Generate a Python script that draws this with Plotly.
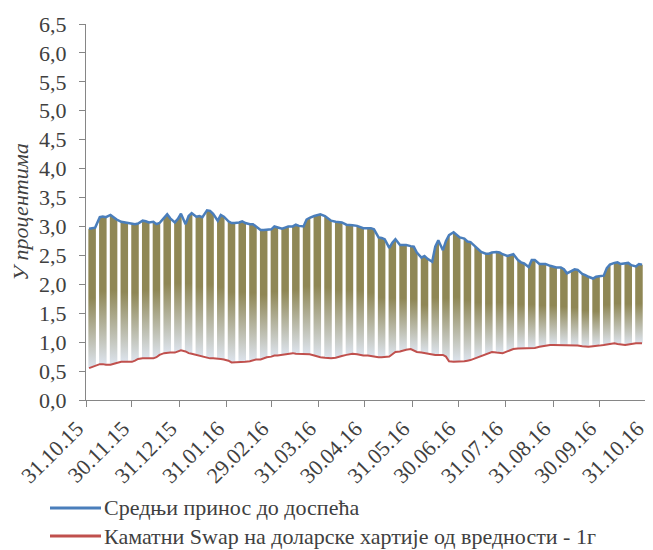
import pandas as pd
import plotly.graph_objects as go

# ---- data ----
first_monday = "2015-11-02"
n_weeks = 52
# Values on Mon / Wed / Fri of every week
yield_avg = [
    2.96, 2.97, 2.98,  3.16, 3.17, 3.16,  3.20, 3.16, 3.12,  3.08, 3.07, 3.06,
    3.04, 3.04, 3.05,  3.10, 3.09, 3.07,  3.08, 3.04, 3.06,  3.14, 3.21, 3.14,
    3.07, 3.13, 3.22,  3.04, 3.18, 3.23,  3.17, 3.18, 3.16,  3.28, 3.27, 3.22,
    3.10, 3.20, 3.17,  3.09, 3.06, 3.06,  3.07, 3.09, 3.06,  3.04, 3.04, 3.00,
    2.94, 2.94, 2.94,  2.95, 3.00, 2.98,  2.96, 2.98, 3.00,  3.00, 3.03, 3.01,
    3.00, 3.12, 3.15,  3.18, 3.19, 3.21,  3.18, 3.14, 3.10,  3.08, 3.07, 3.07,
    3.03, 3.02, 3.02,  3.01, 2.99, 2.97,  2.97, 2.97, 2.95,  2.81, 2.80, 2.78,
    2.63, 2.72, 2.78,  2.68, 2.68, 2.68,  2.66, 2.65, 2.55,  2.46, 2.49, 2.44,
    2.39, 2.65, 2.76,  2.59, 2.75, 2.85,  2.90, 2.86, 2.81,  2.79, 2.74, 2.73,
    2.65, 2.60, 2.56,  2.53, 2.53, 2.55,  2.56, 2.55, 2.52,  2.49, 2.51, 2.52,
    2.42, 2.38, 2.36,  2.30, 2.42, 2.42,  2.35, 2.35, 2.35,  2.32, 2.30, 2.29,
    2.29, 2.26, 2.19,  2.24, 2.26, 2.25,  2.18, 2.16, 2.13,  2.10, 2.13, 2.14,
    2.15, 2.28, 2.34,  2.37, 2.38, 2.35,  2.36, 2.37, 2.33,  2.31, 2.35, 2.34,
]
swap_1y = [
    0.55, 0.57, 0.60,  0.62, 0.62, 0.61,  0.61, 0.62, 0.64,  0.66, 0.66, 0.66,
    0.66, 0.68, 0.71,  0.72, 0.72, 0.72,  0.72, 0.74, 0.78,  0.81, 0.82, 0.82,
    0.82, 0.84, 0.86,  0.84, 0.81, 0.80,  0.78, 0.76, 0.74,  0.72, 0.72, 0.72,
    0.72, 0.71, 0.70,  0.68, 0.65, 0.65,  0.65, 0.66, 0.66,  0.67, 0.68, 0.70,
    0.70, 0.72, 0.74,  0.75, 0.77, 0.77,  0.78, 0.79, 0.80,  0.81, 0.80, 0.80,
    0.80, 0.80, 0.79,  0.77, 0.75, 0.74,  0.73, 0.72, 0.72,  0.73, 0.75, 0.76,
    0.78, 0.79, 0.80,  0.79, 0.78, 0.77,  0.77, 0.76, 0.75,  0.74, 0.74, 0.74,
    0.75, 0.79, 0.83,  0.84, 0.86, 0.87,  0.88, 0.86, 0.83,  0.82, 0.81, 0.80,
    0.78, 0.78, 0.78,  0.78, 0.75, 0.67,  0.66, 0.66, 0.66,  0.67, 0.68, 0.69,
    0.72, 0.74, 0.76,  0.79, 0.82, 0.83,  0.82, 0.81, 0.81,  0.84, 0.86, 0.88,
    0.89, 0.89, 0.89,  0.89, 0.89, 0.90,  0.92, 0.93, 0.94,  0.95, 0.95, 0.95,
    0.94, 0.94, 0.94,  0.94, 0.94, 0.94,  0.93, 0.92, 0.92,  0.93, 0.94, 0.94,
    0.95, 0.96, 0.97,  0.98, 0.97, 0.96,  0.95, 0.96, 0.97,  0.98, 0.98, 0.98,
]
tick_dates = ["2015-10-31", "2015-11-30", "2015-12-31", "2016-01-31", "2016-02-29",
              "2016-03-31", "2016-04-30", "2016-05-31", "2016-06-30", "2016-07-31",
              "2016-08-31", "2016-09-30", "2016-10-31"]
tick_labels = ["31.10.15", "30.11.15", "31.12.15", "31.01.16", "29.02.16", "31.03.16",
               "30.04.16", "31.05.16", "30.06.16", "31.07.16", "31.08.16", "30.09.16",
               "31.10.16"]
name_yield = "Средњи принос до доспећа"
name_swap = "Каматни Swap на доларске хартије од вредности - 1г"

# ---- build ----
mondays = pd.date_range(first_monday, periods=n_weeks, freq="7D")
dates = []
for m in mondays:
    dates += [m, m + pd.Timedelta(days=2), m + pd.Timedelta(days=4)]

FONT = "Liberation Serif, Times New Roman, serif"
FS = 22
TXT = "#404040"
AX = "#868686"
OLIVE = "#8f8755"
LIGHT = "#dde4ee"
BLUE = "#4a7ebb"
RED = "#c0504d"
half = pd.Timedelta(hours=11)

# the page body has an 8px default margin; the figure is sized to fit inside
OFF = 8
W, H = 653 - OFF, 550 - OFF
ML, MR, MT, MB = 86 - OFF, 6, 24 - OFF, 150
PW, PH = W - ML - MR, H - MT - MB


def px_x(px):
    return (px - OFF - ML) / PW


def px_y(py):
    return (H - MB - (py - OFF)) / PH


fig = go.Figure()
for k in range(n_weeks):
    i = 3 * k
    d = dates[i:i + 3]
    top = yield_avg[i:i + 3]
    bot = swap_1y[i:i + 3]
    xs = [d[0] - half] + d + [d[2] + half]
    xs = xs + xs[::-1]
    ys = [top[0]] + top + [top[2]] + ([bot[2]] + bot[::-1] + [bot[0]])
    fig.add_trace(go.Scatter(
        x=xs, y=ys, mode="lines", fill="toself", line=dict(width=0),
        fillgradient=dict(type="vertical",
                          colorscale=[[0, LIGHT], [0.5, OLIVE], [1, OLIVE]]),
        showlegend=False, hoverinfo="skip"))

fig.add_trace(go.Scatter(x=dates, y=yield_avg, mode="lines", name=name_yield,
                         line=dict(color=BLUE, width=2.5), showlegend=False))
fig.add_trace(go.Scatter(x=dates, y=swap_1y, mode="lines", name=name_swap,
                         line=dict(color=RED, width=2), showlegend=False))

# legend drawn as shapes + text (keeps the plot area fixed)
legend_rows = [(name_yield, BLUE, 508), (name_swap, RED, 536)]
for text, color, py in legend_rows:
    fig.add_shape(type="line", xref="paper", yref="paper",
                  x0=px_x(50), x1=px_x(101), y0=px_y(py), y1=px_y(py),
                  line=dict(color=color, width=3))
    fig.add_annotation(text=text, xref="paper", yref="paper",
                       x=px_x(102), y=px_y(py), xanchor="left", yanchor="middle",
                       showarrow=False,
                       font=dict(family=FONT, size=FS, color=TXT))

fig.update_layout(
    width=W, height=H,
    margin=dict(l=ML, r=MR, t=MT, b=MB),
    paper_bgcolor="white", plot_bgcolor="white",
    separators=", ",
    showlegend=False,
    font=dict(family=FONT, size=FS, color=TXT),
    yaxis=dict(range=[0, 6.5], tick0=0, dtick=0.5, tickformat=".1f",
               automargin=False,
               showgrid=False, zeroline=False, showline=True, linecolor=AX,
               linewidth=1, ticks="outside", ticklen=6, tickcolor=AX,
               ticklabelstandoff=8,
               tickfont=dict(family=FONT, size=FS, color=TXT),
               title=dict(text="<i>У процентима</i>", standoff=8,
                          font=dict(family=FONT, size=FS, color=TXT))),
    xaxis=dict(range=["2015-10-31", "2016-10-31 06:00"], tickvals=tick_dates,
               ticktext=tick_labels, tickangle=-45, showgrid=False,
               automargin=False, ticklabeloverflow="allow",
               ticklabelshift=-9,
               zeroline=False, showline=True, linecolor=AX, linewidth=1,
               ticks="outside", ticklen=6, tickcolor=AX,
               tickfont=dict(family=FONT, size=FS, color=TXT)),
)

fig.write_html("out.html")
